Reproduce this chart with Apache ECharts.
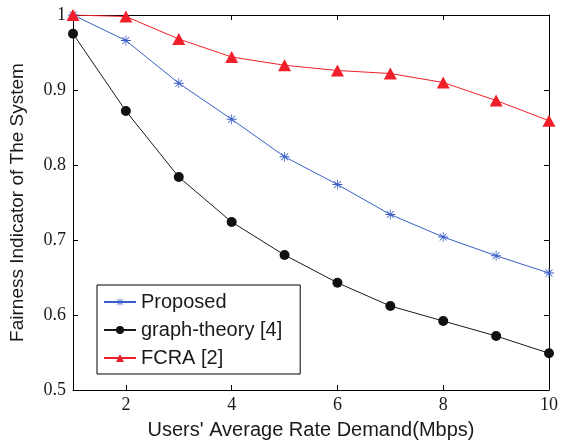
<!DOCTYPE html>
<html><head><meta charset="utf-8">
<script src="https://cdn.jsdelivr.net/npm/echarts@6/dist/echarts.min.js"></script>
<style>html,body{margin:0;padding:0;background:#fff}#c{width:569px;height:445px}</style>
</head><body><div id="c"></div>
<script>
var xValues = [1, 2, 3, 4, 5, 6, 7, 8, 9, 10];
var proposed = [1.0, 0.966, 0.909, 0.861, 0.811, 0.774, 0.734, 0.704, 0.679, 0.656];
var graphTheory = [0.975, 0.872, 0.784, 0.724, 0.680, 0.643, 0.612, 0.592, 0.572, 0.549];
var fcra = [1.0, 0.998, 0.968, 0.944, 0.933, 0.926, 0.922, 0.910, 0.886, 0.859];
var xTicks = [2, 4, 6, 8, 10];
var yTicks = [0.5, 0.6, 0.7, 0.8, 0.9, 1];
var seriesNames = ['Proposed', 'graph-theory [4]', 'FCRA [2]'];

function pairs(arr){ return xValues.map(function(x,i){ return [x, arr[i]]; }); }

var star = 'path://M4.6,0h0.8v10h-0.8zM0,4.6h10v0.8h-10zM1.2,1.8l0.6,-0.6l7,7l-0.6,0.6zM8.2,1.2l0.6,0.6l-7,7l-0.6,-0.6z';

var chart = echarts.init(document.getElementById('c'), null, {renderer:'canvas'});
var serif = '"Liberation Serif","Times New Roman",serif';
var sans = '"Liberation Sans",Arial,sans-serif';
var axisCommon = {
  axisLine:{onZero:false, lineStyle:{color:'#000', width:1}},
  splitLine:{show:false}
};
chart.setOption({
  animation:false,
  backgroundColor:'#fff',
  grid:{left:72, right:20, top:15, bottom:53, containLabel:false},
  legend:{
    orient:'vertical', left:97, top:285,
    itemWidth:32, itemHeight:10, itemGap:8,
    padding:[7,18,6,6],
    borderColor:'#000', borderWidth:1, backgroundColor:'#fff',
    textStyle:{fontFamily:sans, fontSize:20, color:'#1a1a1a'},
    data:seriesNames
  },
  xAxis:[{
    type:'value', min:1, max:10, position:'bottom',
    name:"Users' Average Rate Demand(Mbps)", nameLocation:'middle', nameGap:30,
    nameTextStyle:{fontFamily:sans, fontSize:20, color:'#1a1a1a'},
    axisLine:axisCommon.axisLine, splitLine:axisCommon.splitLine,
    axisTick:{inside:true, length:5, customValues:xTicks, lineStyle:{color:'#000'}},
    axisLabel:{customValues:xTicks, fontFamily:serif, fontSize:18, color:'#1a1a1a', margin:6}
  },{
    type:'value', min:1, max:10, position:'top',
    axisLine:axisCommon.axisLine, splitLine:axisCommon.splitLine,
    axisTick:{inside:true, length:5, customValues:xTicks, lineStyle:{color:'#000'}},
    axisLabel:{show:false}
  }],
  yAxis:[{
    type:'value', min:0.5, max:1, interval:0.1, position:'left',
    name:'Fairness Indicator of The System', nameLocation:'middle', nameGap:46,
    nameTextStyle:{fontFamily:sans, fontSize:19, color:'#1a1a1a'},
    axisLine:axisCommon.axisLine, splitLine:axisCommon.splitLine,
    axisTick:{inside:true, length:5, lineStyle:{color:'#000'}},
    axisLabel:{fontFamily:serif, fontSize:18, color:'#1a1a1a', margin:7,
      formatter:function(v){ return Math.abs(v-1)<1e-9 ? '1' : v.toFixed(1); }}
  },{
    type:'value', min:0.5, max:1, interval:0.1, position:'right',
    axisLine:axisCommon.axisLine, splitLine:axisCommon.splitLine,
    axisTick:{inside:true, length:5, lineStyle:{color:'#000'}},
    axisLabel:{show:false}
  }],
  series:[{
    name:seriesNames[0], type:'line', data:pairs(proposed),
    symbol:star, symbolSize:10,
    lineStyle:{color:'#3a5fc8', width:1}, itemStyle:{color:'#3a5fc8'}
  },{
    name:seriesNames[1], type:'line', data:pairs(graphTheory),
    symbol:'circle', symbolSize:10,
    lineStyle:{color:'#1a1a1a', width:1}, itemStyle:{color:'#111'}
  },{
    name:seriesNames[2], type:'line', data:pairs(fcra),
    symbol:'triangle', symbolSize:[13,12],
    lineStyle:{color:'#f0202a', width:1}, itemStyle:{color:'#f0202a'}
  }]
});
</script></body></html>
